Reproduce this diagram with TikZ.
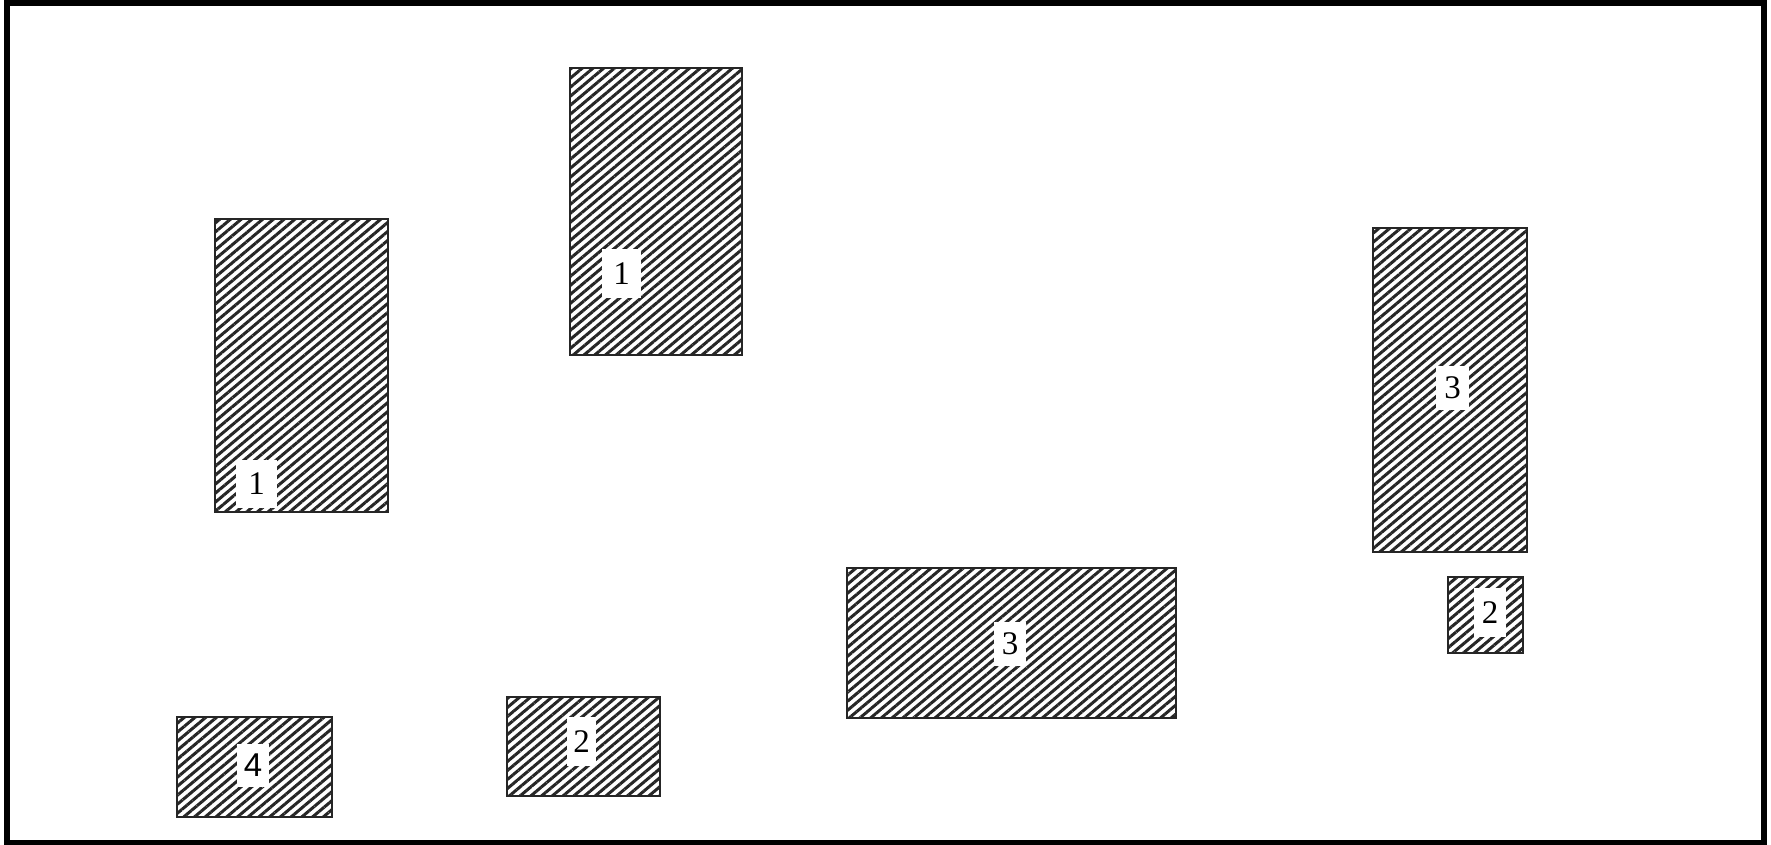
\documentclass[tikz,border=0pt]{standalone}
\usepackage{fontspec}
\setmainfont{Liberation Serif}
\newfontfamily\sansdigit{Liberation Sans}
\usetikzlibrary{patterns.meta}
\tikzset{
  hatchbox/.style={draw=black!85, line width=1.1pt, inner sep=0pt,
    pattern={Lines[angle=40,distance=3.45pt,line width=1.5pt]}, pattern color=black!85},
  tag/.style={fill=white, inner sep=0pt, font=\fontsize{16.5}{18}\selectfont},
  frame/.style={draw=black, line width=3pt, inner sep=0pt}
}
\begin{document}
\begin{tikzpicture}[x=0.5pt,y=-0.5pt]
\useasboundingbox (0,0) rectangle (1771,845);
\node[frame, minimum width=878.5pt, minimum height=419.75pt] (frame) at (885.5,423.25) {};
% hatched blocks
\node[hatchbox, minimum width=86.5pt, minimum height=146.5pt] (r1) at (301.5,365.5) {};
\node[hatchbox, minimum width=86pt, minimum height=143.5pt] (r2) at (656,211.5) {};
\node[hatchbox, minimum width=77pt, minimum height=162pt] (r3) at (1450,390) {};
\node[hatchbox, minimum width=37.5pt, minimum height=38pt] (r4) at (1485.5,615) {};
\node[hatchbox, minimum width=164.5pt, minimum height=75pt] (r5) at (1011.5,643) {};
\node[hatchbox, minimum width=76.5pt, minimum height=49.5pt] (r6) at (583.5,746.5) {};
\node[hatchbox, minimum width=77.5pt, minimum height=50pt] (r7) at (254.5,767) {};
% labels
\node[tag, minimum width=20.5pt, minimum height=24pt] (l1) at (256.5,484) {1};
\node[tag, minimum width=19.5pt, minimum height=24.5pt] (l2) at (621.5,273.5) {1};
\node[tag, minimum width=16.5pt, minimum height=22pt] (l3) at (1452.5,388) {3};
\node[tag, minimum width=16pt, minimum height=24.5pt] (l4) at (1490,612.5) {2};
\node[tag, minimum width=16pt, minimum height=22pt] (l5) at (1010,644) {3};
\node[tag, minimum width=14.5pt, minimum height=24.5pt] (l6) at (581.5,741.5) {2};
\node[tag, minimum width=16pt, minimum height=21.5pt, font=\sansdigit\fontsize{16.5}{18}\selectfont] (l7) at (253,765.5) {4};
\end{tikzpicture}
\end{document}
